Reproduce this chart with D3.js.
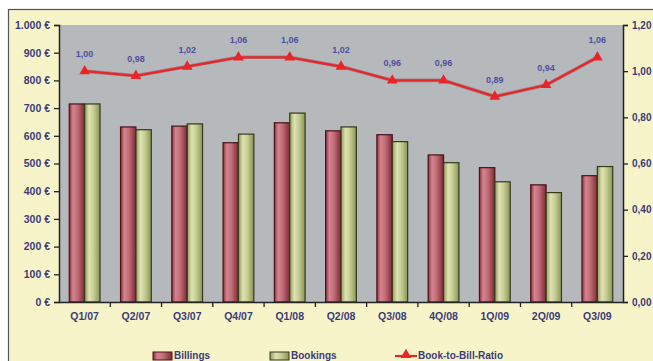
<!DOCTYPE html>
<html>
<head>
<meta charset="utf-8">
<script src="https://cdn.jsdelivr.net/npm/d3@7/dist/d3.min.js"></script>
<style>
  html, body { margin: 0; padding: 0; background: #fff; overflow: hidden; }
  svg { display: block; }
  text { font-family: "Liberation Sans", Arial, sans-serif; font-weight: bold; }
</style>
</head>
<body>
<div id="chart"></div>
<script>
// quarters on the x axis
const quarters = ["Q1/07", "Q2/07", "Q3/07", "Q4/07", "Q1/08", "Q2/08", "Q3/08", "4Q/08", "1Q/09", "2Q/09", "Q3/09"]
// euro values (left axis)
const billings = [715, 632, 635, 575, 647, 618, 604, 531, 485, 423, 456]
const bookings = [715, 622, 643, 606, 682, 632, 579, 503, 434, 395, 489]
// book-to-bill ratio (right axis)
const ratio = [1.00, 0.98, 1.02, 1.06, 1.06, 1.02, 0.96, 0.96, 0.89, 0.94, 1.06]
const ratioLabels = ["1,00", "0,98", "1,02", "1,06", "1,06", "1,02", "0,96", "0,96", "0,89", "0,94", "1,06"]
const leftTicks = [0, 100, 200, 300, 400, 500, 600, 700, 800, 900, 1000]
const rightTicks = [0, 0.2, 0.4, 0.6, 0.8, 1.0, 1.2]

const W = 653, H = 361
const margin = { top: 25, left: 59, right: 30, bottom: 59 }
const width = W - margin.left - margin.right
const height = H - margin.top - margin.bottom

const axisColor = "#3b3b7a"
const labelColor = "#4f4fa2"
const font = "'Liberation Sans', Arial, sans-serif"

const svg = d3.select("#chart").append("svg")
    .attr("width", W).attr("height", H)

// gradients for the cylinder look of the bars
const defs = svg.append("defs")
function addGrad(id, stops) {
    let g = defs.append("linearGradient").attr("id", id)
        .attr("x1", "0%").attr("x2", "100%").attr("y1", "0%").attr("y2", "0%")
    stops.forEach(s => g.append("stop").attr("offset", s[0]).attr("stop-color", s[1]))
}
addGrad("gBill", [["0%", "#8a3440"], ["25%", "#d4858f"], ["55%", "#c06b76"], ["100%", "#7c2a35"]])
addGrad("gBook", [["0%", "#8f9860"], ["30%", "#dfe3b0"], ["60%", "#c4cb90"], ["100%", "#8a9458"]])

// outer frame
svg.append("rect").attr("x", 8.5).attr("y", 9.5).attr("width", W).attr("height", H)
    .attr("fill", "#f8f4c9").attr("stroke", "#555").attr("stroke-width", 1.2)

const g = svg.append("g").attr("transform", `translate(${margin.left},${margin.top})`)

g.append("rect").attr("width", width).attr("height", height).attr("fill", "#b6b9bc")

const x = d3.scaleBand().domain(quarters).range([0, width]).paddingInner(0.4).paddingOuter(0.2)
const xs = d3.scaleBand().domain(["billings", "bookings"]).range([0, x.bandwidth()])
const y = d3.scaleLinear().domain([0, 1000]).range([height, 0])
const yr = d3.scaleLinear().domain([0, 1.2]).range([height, 0])

// bars
const series = [
    { key: "billings", values: billings, fill: "url(#gBill)", stroke: "#4a1218" },
    { key: "bookings", values: bookings, fill: "url(#gBook)", stroke: "#353a1a" }
]
series.forEach(s => {
    g.selectAll("rect." + s.key)
        .data(s.values)
        .enter().append("rect")
        .attr("class", s.key)
        .attr("x", (d, i) => x(quarters[i]) + xs(s.key))
        .attr("y", d => y(d))
        .attr("width", xs.bandwidth())
        .attr("height", d => height - y(d))
        .attr("fill", s.fill)
        .attr("stroke", s.stroke)
        .attr("stroke-width", 1.2)
})

function styleAxis(a, size) {
    a.select(".domain").attr("stroke", "#222").attr("stroke-width", 1.5)
    a.selectAll(".tick line").attr("stroke", "#222").attr("stroke-width", 1.3)
    a.selectAll("text").attr("fill", axisColor).style("font-size", size)
        .style("font-family", font).style("font-weight", "bold")
}

// left axis
const yAxis = g.append("g")
    .call(d3.axisLeft(y).tickValues(leftTicks).tickSize(5).tickPadding(4)
        .tickFormat(d => d3.format(",")(d).replace(",", ".") + " €"))
styleAxis(yAxis, "10.5px")

// right axis
const rAxis = g.append("g").attr("transform", `translate(${width},0)`)
    .call(d3.axisRight(yr).tickValues(rightTicks).tickSize(5).tickPadding(4)
        .tickFormat(d => d3.format(".2f")(d).replace(".", ",")))
styleAxis(rAxis, "10px")

// bottom axis, ticks between categories
const xAxis = g.append("g").attr("transform", `translate(0,${height})`)
    .call(d3.axisBottom(x).tickSize(0).tickPadding(11))
styleAxis(xAxis, "10.5px")
xAxis.selectAll("line.sep")
    .data(quarters.slice(1))
    .enter().append("line").attr("class", "sep")
    .attr("x1", d => x(d) - x.step() * x.paddingInner() / 2)
    .attr("x2", d => x(d) - x.step() * x.paddingInner() / 2)
    .attr("y1", 0).attr("y2", 5)
    .attr("stroke", "#222").attr("stroke-width", 1.3)

// ratio line
const cx = (d, i) => x(quarters[i]) + x.bandwidth() / 2
const line = d3.line().x(cx).y(d => yr(d))
g.append("path").datum(ratio)
    .attr("d", line).attr("fill", "none")
    .attr("stroke", "#7a2020").attr("stroke-width", 3.6).attr("opacity", 0.35)
g.append("path").datum(ratio)
    .attr("d", line).attr("fill", "none")
    .attr("stroke", "#e8262a").attr("stroke-width", 2.2)

const tri = d3.symbol().type(d3.symbolTriangle).size(50)
g.selectAll("path.mark")
    .data(ratio)
    .enter().append("path")
    .attr("class", "mark")
    .attr("d", tri)
    .attr("transform", (d, i) => `translate(${cx(d, i)},${yr(d)})`)
    .attr("fill", "#e8262a")

g.selectAll("text.rl")
    .data(ratio)
    .enter().append("text")
    .attr("class", "rl")
    .attr("x", cx)
    .attr("y", d => yr(d) - 14)
    .attr("text-anchor", "middle")
    .attr("fill", labelColor)
    .style("font-size", "9px")
    .text((d, i) => ratioLabels[i])

// legend at the bottom edge
const legend = svg.append("g").attr("transform", "translate(0,351)")
legend.append("rect").attr("x", 153).attr("y", 1).attr("width", 19).attr("height", 8)
    .attr("fill", "url(#gBill)").attr("stroke", "#4a1218")
legend.append("text").attr("x", 174).attr("y", 8).attr("fill", axisColor)
    .style("font-size", "10px").text("Billings")
legend.append("rect").attr("x", 270).attr("y", 1).attr("width", 19).attr("height", 8)
    .attr("fill", "url(#gBook)").attr("stroke", "#353a1a")
legend.append("text").attr("x", 291).attr("y", 8).attr("fill", axisColor)
    .style("font-size", "10px").text("Bookings")
legend.append("line").attr("x1", 395).attr("x2", 417).attr("y1", 5).attr("y2", 5)
    .attr("stroke", "#e8262a").attr("stroke-width", 2.2)
legend.append("path").attr("d", tri).attr("transform", "translate(406,4)").attr("fill", "#e8262a")
legend.append("text").attr("x", 418).attr("y", 8).attr("fill", axisColor)
    .style("font-size", "10px").text("Book-to-Bill-Ratio")
</script>
</body>
</html>
